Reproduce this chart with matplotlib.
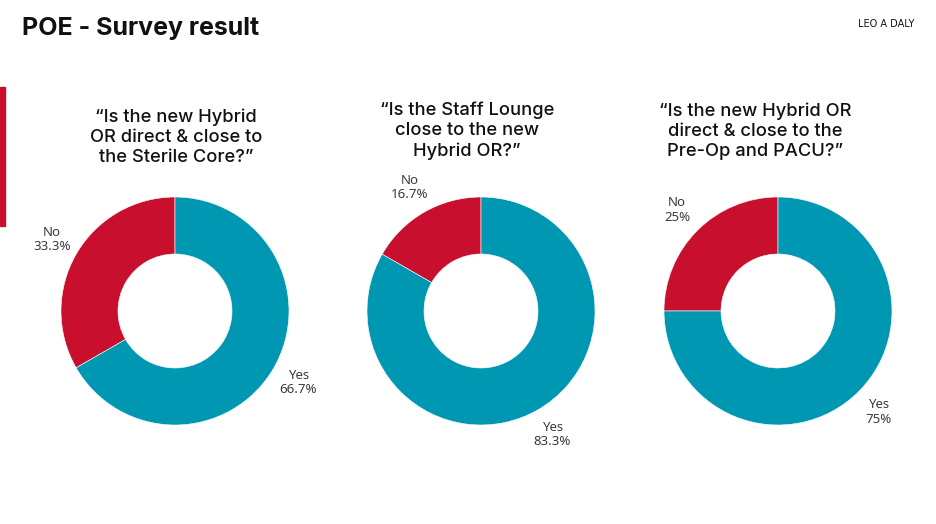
import matplotlib
matplotlib.use("Agg")
import matplotlib.pyplot as plt
from matplotlib.patches import Rectangle

# Data
questions = [
    "\u201cIs the new Hybrid\nOR direct & close to\nthe Sterile Core?\u201d",
    "\u201cIs the Staff Lounge\nclose to the new\nHybrid OR?\u201d",
    "\u201cIs the new Hybrid OR\ndirect & close to the\nPre-Op and PACU?\u201d",
]
answers = ["No", "Yes"]
no_pct = [33.3, 16.7, 25]
yes_pct = [66.7, 83.3, 75]

colors = ["#C8102E", "#0097B2"]

# layout in pixels (y measured from top)
W, H = 936, 524
donut_x = [175, 481, 778]
donut_y = 311
radius = 114
title_x = [176, 467, 755]
title_y = [137, 131, 131]

fig = plt.figure(figsize=(W / 100, H / 100), dpi=100)
ax = fig.add_axes([0, 0, 1, 1])

for i in range(len(questions)):
    vals = [no_pct[i], yes_pct[i]]
    labs = [f"{a}\n{v:g}%" for a, v in zip(answers, vals)]
    wedges, texts = ax.pie(vals, labels=labs, colors=colors, startangle=90,
                           counterclock=True, center=(donut_x[i], H - donut_y),
                           radius=radius, labeldistance=1.25,
                           wedgeprops=dict(width=radius * 0.5, edgecolor="white", linewidth=0.4),
                           textprops=dict(fontsize=9.5, family="Noto Sans", color="#3a3a3a"))
    for t in texts:
        t.set_horizontalalignment("center")
        t.set_verticalalignment("center")
        t.set_linespacing(1.15)
    ax.text(title_x[i], H - title_y[i], questions[i], ha="center", va="center",
            fontsize=13.2, family="Inter", fontweight="medium", color="#111111",
            linespacing=1.25)

# pie() resets the limits, so set them afterwards
ax.set_xlim(0, W)
ax.set_ylim(0, H)
ax.set_aspect("equal")
ax.axis("off")

# header
ax.text(22, H - 28, "POE - Survey result", ha="left", va="center",
        fontsize=18, family="Inter", fontweight="bold", color="#111111")
ax.text(886, H - 24, "LEO A DALY", ha="center", va="center", fontsize=7,
        family=["Liberation Sans Narrow", "DejaVu Sans"], color="#111111")

# red accent bar on the left edge
fig.patches.append(Rectangle((0, 1 - 226 / H), 5 / W, 139 / H,
                             transform=fig.transFigure, color="#C8102E"))

fig.savefig("out.png", dpi=100)
